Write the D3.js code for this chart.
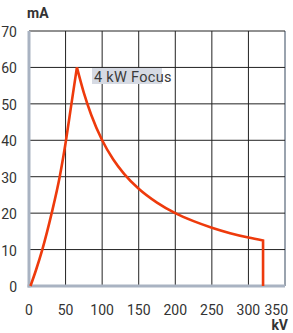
<!DOCTYPE html>
<html><head><meta charset="utf-8">
<script src="https://cdn.jsdelivr.net/npm/d3@7"></script>
<style>body{margin:0;background:#fff}svg{display:block}</style>
</head><body>
<script>
const xTicks = [0,50,100,150,200,250,300,350];
const yTicks = [0,10,20,30,40,50,60,70];
const riseKV = [2,9.6,18.2,31,42,50.6,58,65.5];
const riseMA = [0,4.4,10,20,30,40,50,60];
const decayKV = [65.5,75,85,100,115,130,150,175,200,225,250,275,300,320];
const decayMA = [60,53,47,40,34.8,30.8,26.7,22.9,20,17.8,16,14.5,13.3,12.5];
const dropKV = [320,320];
const dropMA = [12.5,0];
const labelText = "4 kW Focus";
const xTitle = "kV", yTitle = "mA";

const W=293,H=333;
const font = "'Liberation Sans Narrow','Roboto',sans-serif";
const svg = d3.select("body").append("svg").attr("width",W).attr("height",H);
const x = d3.scaleLinear().domain([0,350]).range([29,285]);
const y = d3.scaleLinear().domain([0,70]).range([286,31]);

const g = svg.append("g");
g.selectAll(".vg").data(xTicks.slice(1)).join("line")
  .attr("x1",d=>x(d)).attr("x2",d=>x(d)).attr("y1",y(70)).attr("y2",y(0))
  .attr("stroke",d=>d===350?"#9aa3ae":"#222").attr("stroke-width",d=>d===350?2:1);
g.selectAll(".hg").data(yTicks.slice(1)).join("line")
  .attr("x1",x(0)).attr("x2",x(350)).attr("y1",d=>y(d)).attr("y2",d=>y(d))
  .attr("stroke","#222").attr("stroke-width",1);
// axes
g.append("line").attr("x1",x(0)).attr("x2",x(0)).attr("y1",y(70)).attr("y2",y(0)+1.5)
  .attr("stroke","#a9b3c2").attr("stroke-width",3);
g.append("line").attr("x1",x(0)-1.5).attr("x2",x(350)).attr("y1",y(0)).attr("y2",y(0))
  .attr("stroke","#a9b3c2").attr("stroke-width",3);

const ln = d3.line().x(d=>x(d[0])).y(d=>y(d[1])).curve(d3.curveMonotoneX);
const lnL = d3.line().x(d=>x(d[0])).y(d=>y(d[1]));
const rise = riseKV.map((v,i)=>[v,riseMA[i]]);
const decay = decayKV.map((v,i)=>[v,decayMA[i]]);
const drop = dropKV.map((v,i)=>[v,dropMA[i]]);
const dStr = ln(rise) + "L" + ln(decay).slice(1) + "L" + lnL(drop).slice(1);
g.append("path").attr("d",dStr)
  .attr("fill","none").attr("stroke","#ee3a0c").attr("stroke-width",2.6).attr("stroke-linejoin","miter");

// label
g.append("rect").attr("x",92).attr("y",68).attr("width",70).attr("height",16).attr("fill","#d6dae3");
g.append("text").attr("x",94).attr("y",81.5).text(labelText)
  .attr("font-family",font).attr("font-size",14.5).attr("letter-spacing",0.3).attr("fill","#3a3a3a");

// tick labels
g.selectAll(".yl").data(yTicks).join("text")
  .attr("x",17).attr("y",d=>y(d)+6).attr("text-anchor","end").text(d=>d)
  .attr("font-family",font).attr("font-size",14).attr("fill","#333");
g.selectAll(".xl").data(xTicks).join("text")
  .attr("x",d=>d===350?288:x(d)).attr("y",315).attr("text-anchor",d=>d===350?"end":"middle").text(d=>d)
  .attr("font-family",font).attr("font-size",14).attr("fill","#333");
g.append("text").attr("x",27).attr("y",18).text(yTitle)
  .attr("font-family",font).attr("font-size",14).attr("font-weight","bold").attr("fill","#333");
g.append("text").attr("x",288).attr("y",330).attr("text-anchor","end").text(xTitle)
  .attr("font-family",font).attr("font-size",14).attr("font-weight","bold").attr("fill","#333");
</script>
</body></html>
